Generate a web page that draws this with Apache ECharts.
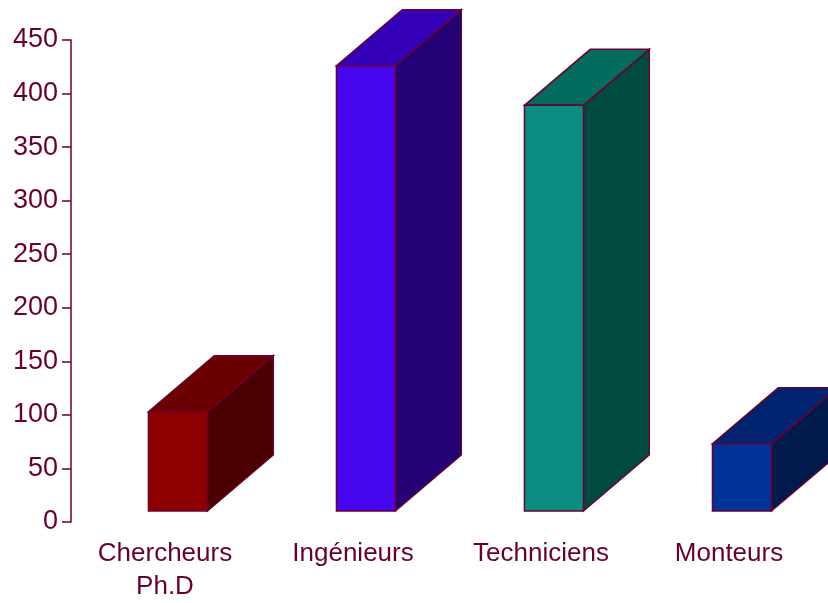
<!DOCTYPE html>
<html>
<head>
<meta charset="utf-8">
<style>
  html, body { margin: 0; padding: 0; background: #ffffff; overflow: hidden; }
  #chart { width: 828px; height: 603px; }
</style>
<script src="https://cdn.jsdelivr.net/npm/echarts@6/dist/echarts.min.js"></script>
</head>
<body>
<div id="chart"></div>
<script>
// Staff headcount by category
const categories = ['Chercheurs\nPh.D', 'Ingénieurs', 'Techniciens', 'Monteurs'];
const headcount = [103, 426, 389, 73];
const yTicks = { min: 0, max: 450, interval: 50 };

// Face shades for each box: front, top, side
const faceColors = [
  ['#8c0000', '#6b0000', '#4a0000'],
  ['#4506ee', '#3300b8', '#230074'],
  ['#0b8c80', '#046b5f', '#004a42'],
  ['#003399', '#00246f', '#001a4c']
];
const edge = '#6b0033';
const ink = '#660033';

const chart = echarts.init(document.getElementById('chart'));

function renderBox(params, api) {
  const idx = api.value(0);
  const val = api.value(1);
  const top = api.coord([idx, val]);
  const base = api.coord([idx, 0]);
  const band = api.size([1, 0])[0];
  const cx = top[0];
  const x1 = cx - band * 0.088;
  const x2 = x1 + band * 0.314;
  const dx = band * 0.35;
  const dy = -56;
  const lift = 11;
  const yt = top[1];
  const yb = base[1] - lift;
  const c = faceColors[idx];
  const st = (fill) => ({ fill: fill, stroke: edge, lineWidth: 1.5, lineJoin: 'miter' });
  return {
    type: 'group',
    children: [
      { type: 'polygon', shape: { points: [[x2, yt], [x2 + dx, yt + dy], [x2 + dx, yb + dy], [x2, yb]] }, style: st(c[2]) },
      { type: 'polygon', shape: { points: [[x1, yt], [x2, yt], [x2 + dx, yt + dy], [x1 + dx, yt + dy]] }, style: st(c[1]) },
      { type: 'rect', shape: { x: x1, y: yt, width: x2 - x1, height: yb - yt }, style: st(c[0]) }
    ]
  };
}

chart.setOption({
  animation: false,
  backgroundColor: '#ffffff',
  grid: { left: 71, width: 752, top: 40, height: 487, containLabel: false },
  xAxis: {
    type: 'category',
    data: categories,
    axisLine: { show: false },
    axisTick: { show: false },
    axisLabel: {
      color: ink,
      fontFamily: 'Liberation Sans, Arial, sans-serif',
      fontSize: 26,
      lineHeight: 33,
      margin: 15,
      interval: 0
    }
  },
  yAxis: {
    type: 'value',
    min: yTicks.min,
    max: yTicks.max,
    interval: yTicks.interval,
    splitLine: { show: false },
    axisLine: { show: true, lineStyle: { color: ink, width: 1.5 } },
    axisTick: { show: true, length: 9, lineStyle: { color: ink, width: 1.5 } },
    axisLabel: {
      color: ink,
      fontFamily: 'Liberation Sans, Arial, sans-serif',
      fontSize: 27,
      margin: 13
    }
  },
  series: [{
    type: 'custom',
    clip: false,
    renderItem: renderBox,
    encode: { x: 0, y: 1 },
    data: headcount.map((v, i) => [i, v])
  }]
});
</script>
</body>
</html>
